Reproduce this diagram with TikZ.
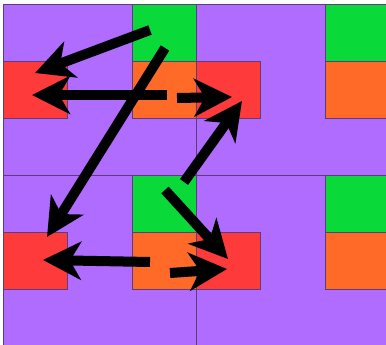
\documentclass[tikz,border=0pt]{standalone}
\usetikzlibrary{arrows.meta}
\definecolor{TilePurple}{HTML}{B06CFF}
\definecolor{CellGreen}{HTML}{0AD93A}
\definecolor{CellOrange}{HTML}{FF6A28}
\definecolor{CellRed}{HTML}{FF3A3A}
\definecolor{EdgeDark}{HTML}{5C3D7A}

\begin{document}
\begin{tikzpicture}[
      x=1pt, y=-1pt,
      tile/.style={draw=EdgeDark, fill=TilePurple, line width=0.8pt},
      cell/.style={
        draw=EdgeDark, line width=0.8pt, inner sep=0pt,
        minimum width=64pt, minimum height=57pt, anchor=north west
      },
      move/.style={line width=10pt, -{Stealth[length=38pt,width=38pt,inset=11pt]}}
    ]
      \useasboundingbox (0,0) rectangle (386,345);
      \clip (0,0) rectangle (386,345);
      % purple tiles
      \draw[tile] (3,4) rectangle (196,175);
      \draw[tile] (196,4) rectangle (389,175);
      \draw[tile] (3,175) rectangle (196,346);
      \draw[tile] (196,175) rectangle (389,346);
      % cells of the upper row
      \node[cell, fill=CellRed]    (redA)    at (3,61)   {};
      \node[cell, fill=CellGreen]  (greenA)  at (132,4)  {};
      \node[cell, fill=CellOrange] (orangeA) at (132,61) {};
      \node[cell, fill=CellRed]    (redB)    at (196,61) {};
      \node[cell, fill=CellGreen]  (greenB)  at (325,4)  {};
      \node[cell, fill=CellOrange] (orangeB) at (325,61) {};
      % cells of the lower row
      \node[cell, fill=CellRed]    (redC)    at (3,232)   {};
      \node[cell, fill=CellGreen]  (greenC)  at (132,175) {};
      \node[cell, fill=CellOrange] (orangeC) at (132,232) {};
      \node[cell, fill=CellRed]    (redD)    at (196,232) {};
      \node[cell, fill=CellGreen]  (greenD)  at (325,175) {};
      \node[cell, fill=CellOrange] (orangeD) at (325,232) {};
      % arrow ends
      \coordinate (gA1) at (150,30);  \coordinate (rA1) at (35,73);
      \coordinate (oA1) at (167,95);  \coordinate (rA2) at (32,95);
      \coordinate (gA2) at (165,48);  \coordinate (rC1) at (47,237);
      \coordinate (oA2) at (177,98);  \coordinate (rB1) at (232,97);
      \coordinate (gC1) at (184,182); \coordinate (rB2) at (242,101);
      \coordinate (gC2) at (165,190); \coordinate (rD1) at (228,259);
      \coordinate (oC1) at (150,262); \coordinate (rC2) at (43,260);
      \coordinate (oC2) at (170,273); \coordinate (rD2) at (227,269);
      \draw[move] (gA1)--(rA1); \draw[move] (oA1)--(rA2);
      \draw[move] (gA2)--(rC1); \draw[move] (oA2)--(rB1);
      \draw[move] (gC1)--(rB2); \draw[move] (gC2)--(rD1);
      \draw[move] (oC1)--(rC2); \draw[move] (oC2)--(rD2);
    \end{tikzpicture}
\end{document}
